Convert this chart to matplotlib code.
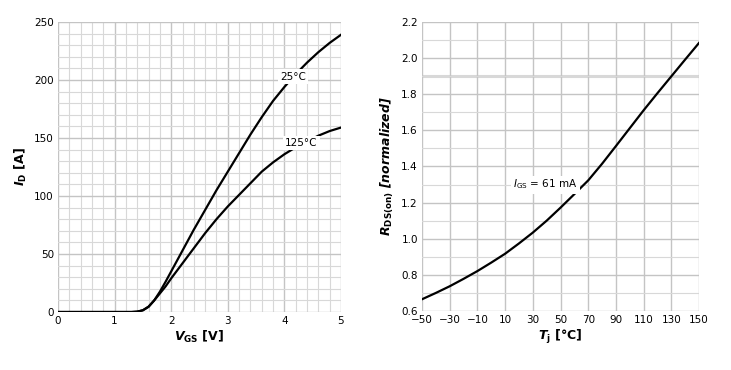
import matplotlib.pyplot as plt
from matplotlib.ticker import MultipleLocator

# --- data ---
vgs = [0, 0.5, 1.0, 1.3, 1.4, 1.5, 1.6, 1.7, 1.8, 1.9, 2.0, 2.2, 2.4, 2.6, 2.8, 3.0,
       3.2, 3.4, 3.6, 3.8, 4.0, 4.2, 4.4, 4.6, 4.8, 5.0]
id_25 = [0, 0, 0, 0, 0.3, 1.5, 4.6, 10, 17.5, 26, 35, 53, 71, 88, 105, 121,
         137, 153, 168, 182, 194, 205, 215, 224, 232, 239]
id_125 = [0, 0, 0, 0, 0.3, 1.5, 4.5, 10, 16, 22, 29, 42, 55, 68, 80, 91,
          101, 111, 121, 129, 136, 142, 147, 152, 156, 159]

tj = [-50, -40, -30, -20, -10, 0, 10, 20, 30, 40, 50, 60, 70, 80, 90, 100,
      110, 120, 130, 140, 150]
rds = [0.665, 0.700, 0.737, 0.778, 0.821, 0.868, 0.917, 0.974, 1.034, 1.100, 1.172,
       1.247, 1.323, 1.415, 1.513, 1.612, 1.711, 1.806, 1.899, 1.992, 2.084]

tj_ticks = [-50, -30, -10, 10, 30, 50, 70, 90, 110, 130, 150]
tj_labels = ["\u221250", "\u221230", "\u221210", "10", "30", "50", "70", "90", "110", "130", "150"]

fig = plt.figure(figsize=(7.31, 3.70), dpi=100)

# --- 1. transfer characteristic ---
ax1 = fig.add_axes([58 / 731, 58 / 370, 283 / 731, 290 / 370])
ax1.plot(vgs, id_25, color="black", lw=1.6)
ax1.plot(vgs, id_125, color="black", lw=1.6)
ax1.set_xlim(0, 5)
ax1.set_ylim(0, 250)
ax1.xaxis.set_major_locator(MultipleLocator(1))
ax1.xaxis.set_minor_locator(MultipleLocator(0.2))
ax1.yaxis.set_major_locator(MultipleLocator(50))
ax1.yaxis.set_minor_locator(MultipleLocator(10))
ax1.grid(which="major", color="#c4c4c4", lw=1.0)
ax1.grid(which="minor", color="#d8d8d8", lw=0.8)
ax1.set_axisbelow(True)
ax1.text(4.15, 203, "25°C", fontsize=7.5, ha="center", va="center",
         bbox=dict(facecolor="white", edgecolor="none", pad=1.5))
ax1.text(4.3, 146, "125°C", fontsize=7.5, ha="center", va="center",
         bbox=dict(facecolor="white", edgecolor="none", pad=1.5))
ax1.set_xlabel(r"$\mathbfit{V}_{\mathbf{GS}}$ [V]", fontsize=9, fontweight="bold", labelpad=2)
ax1.set_ylabel(r"$\mathbfit{I}_{\mathbf{D}}$ [A]", fontsize=9, fontweight="bold", labelpad=4)

# --- 2. on-resistance vs temperature ---
ax2 = fig.add_axes([422 / 731, 59 / 370, 277 / 731, 289 / 370])
ax2.plot(tj, rds, color="black", lw=1.6)
ax2.set_xlim(-50, 150)
ax2.set_ylim(0.6, 2.2)
ax2.set_xticks(tj_ticks)
ax2.set_xticklabels(tj_labels)
ax2.yaxis.set_major_locator(MultipleLocator(0.2))
ax2.yaxis.set_minor_locator(MultipleLocator(0.1))
ax2.grid(which="major", color="#c4c4c4", lw=1.0)
ax2.grid(which="minor", axis="y", color="#d8d8d8", lw=0.8)
ax2.axhline(1.9, color="#d8d8d8", lw=2.2, zorder=0.5)
ax2.set_axisbelow(True)
ax2.text(39, 1.30, r"$I_{\mathrm{GS}}$ = 61 mA", fontsize=7.5, ha="center", va="center",
         bbox=dict(facecolor="white", edgecolor="none", pad=1.5))
ax2.set_xlabel(r"$\mathbfit{T}_{\mathbf{j}}$ [°C]", fontsize=9, fontweight="bold", labelpad=2)
ax2.set_ylabel(r"$\mathbfit{R}_{\mathbf{DS(on)}}$ [normalized]", fontsize=9,
               fontweight="bold", fontstyle="italic", labelpad=4)

for ax in (ax1, ax2):
    for s in ax.spines.values():
        s.set_visible(False)
    ax.tick_params(which="both", length=0, labelsize=7.5, pad=3)

plt.savefig("out.png", dpi=100)
